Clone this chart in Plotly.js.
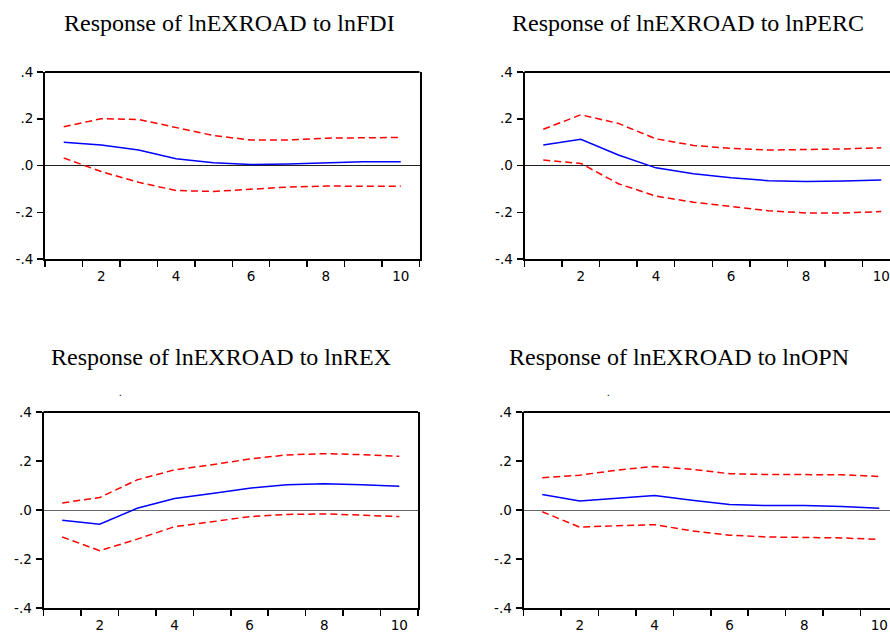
<!DOCTYPE html>
<html>
<head>
<meta charset="utf-8">
<script src="https://cdn.plot.ly/plotly-3.0.1.min.js"></script>
<style>
html,body{margin:0;padding:0;overflow:hidden;background:#fff;width:890px;height:634px;}
#chart{width:900px;height:634px;}
</style>
</head>
<body>
<div id="chart"></div>
<script>
// Periods (categories)
const periods = ["1","2","3","4","5","6","7","8","9","10"];
const periodLabels = ["","2","","4","","6","","8","","10"];
const yTickVals = [-0.4,-0.2,0,0.2,0.4];
const yTickText = ["-.4","-.2",".0",".2",".4"];

const titles = [
  "Response of lnEXROAD to lnFDI",
  "Response of lnEXROAD to lnPERC",
  "Response of lnEXROAD to lnREX",
  "Response of lnEXROAD to lnOPN"
];

// lnFDI
const fdiResp  = [0.099,0.088,0.066,0.029,0.012,0.004,0.006,0.012,0.016,0.016];
const fdiUpper = [0.166,0.200,0.197,0.163,0.128,0.109,0.109,0.117,0.120,0.120];
const fdiLower = [0.032,-0.026,-0.072,-0.107,-0.111,-0.101,-0.092,-0.088,-0.089,-0.089];
// lnPERC
const percResp  = [0.088,0.112,0.045,-0.010,-0.035,-0.052,-0.065,-0.068,-0.066,-0.062];
const percUpper = [0.155,0.217,0.180,0.114,0.086,0.073,0.066,0.068,0.071,0.076];
const percLower = [0.023,0.009,-0.078,-0.131,-0.157,-0.176,-0.194,-0.203,-0.203,-0.197];
// lnREX
const rexResp  = [-0.042,-0.058,0.007,0.047,0.067,0.089,0.103,0.107,0.103,0.097];
const rexUpper = [0.029,0.051,0.123,0.164,0.185,0.208,0.225,0.230,0.226,0.219];
const rexLower = [-0.110,-0.166,-0.119,-0.068,-0.048,-0.027,-0.018,-0.016,-0.021,-0.027];
// lnOPN
const opnResp  = [0.063,0.037,0.048,0.059,0.040,0.022,0.018,0.018,0.014,0.007];
const opnUpper = [0.132,0.142,0.163,0.178,0.166,0.148,0.145,0.145,0.144,0.137];
const opnLower = [-0.007,-0.070,-0.064,-0.060,-0.085,-0.103,-0.110,-0.112,-0.114,-0.120];

const panels = [
  [fdiResp, fdiUpper, fdiLower],
  [percResp, percUpper, percLower],
  [rexResp, rexUpper, rexLower],
  [opnResp, opnUpper, opnLower]
];

const W = 900, H = 634;
// pixel boxes [left, right, top, bottom]
const boxes = [
  [45, 419.5, 72, 259],
  [524.5, 900, 72, 259],
  [43.5, 418, 412, 608],
  [523.5, 898, 412, 608]
];
const titlePos = [[230, 23], [688, 23], [221, 357], [679, 357]];

const tickFont = {family: "DejaVu Sans, Arial, sans-serif", size: 13.5, color: "#000"};

const data = [];
const layout = {
  width: W, height: H,
  margin: {l:0, r:0, t:0, b:0},
  paper_bgcolor: "#fff", plot_bgcolor: "#fff",
  showlegend: false,
  annotations: [],
  shapes: []
};

panels.forEach((p, i) => {
  const n = i + 1;
  const xa = "x" + (n === 1 ? "" : n);
  const ya = "y" + (n === 1 ? "" : n);
  const blue = {color:"#0000ff", width:1.5};
  const red = {color:"#ff0000", width:1.5, dash:"7px,4px"};
  data.push({x: periods, y: p[1], xaxis: xa, yaxis: ya, mode: "lines", line: red, hoverinfo: "skip"});
  data.push({x: periods, y: p[2], xaxis: xa, yaxis: ya, mode: "lines", line: red, hoverinfo: "skip"});
  data.push({x: periods, y: p[0], xaxis: xa, yaxis: ya, mode: "lines", line: blue, hoverinfo: "skip"});

  const b = boxes[i];
  layout["xaxis" + (n === 1 ? "" : n)] = {
    type: "category",
    domain: [b[0]/W, b[1]/W],
    anchor: ya,
    range: [-0.5, 9.5],
    tickmode: "array", tickvals: periods, ticktext: periodLabels,
    tickson: "boundaries",
    ticks: "outside", ticklen: 6, tickwidth: 1.5, tickcolor: "#000",
    ticklabelstandoff: 4,
    showline: true, linecolor: "#000", linewidth: 1.5, mirror: false,
    showgrid: false, zeroline: false,
    tickfont: tickFont,
    fixedrange: true
  };
  layout["yaxis" + (n === 1 ? "" : n)] = {
    domain: [1 - b[3]/H, 1 - b[2]/H],
    anchor: xa,
    range: [-0.4, 0.4],
    tickmode: "array", tickvals: yTickVals, ticktext: yTickText,
    ticks: "outside", ticklen: 6, tickwidth: 1.5, tickcolor: "#000",
    ticklabelstandoff: 1,
    showline: true, linecolor: "#000", linewidth: 2, mirror: true,
    showgrid: false,
    zeroline: true, zerolinecolor: i < 2 ? "#222" : "#666", zerolinewidth: 1,
    tickfont: tickFont,
    fixedrange: true
  };
  // top border
  layout.shapes.push({type: "line", xref: xa + " domain", yref: ya + " domain",
    x0: 0, x1: 1, y0: 1, y1: 1, line: {color: "#000", width: 2}});

  const t = titlePos[i];
  layout.annotations.push({
    text: titles[i], xref: "paper", yref: "paper",
    x: t[0]/W, y: 1 - t[1]/H, xanchor: "center", yanchor: "middle",
    showarrow: false,
    font: {family: "Liberation Serif, Times New Roman, serif", size: 24, color: "#000"}
  });
});

// stray marks under the lower titles
layout.annotations.push({text: ".", xref: "paper", yref: "paper", x: 120/W, y: 1 - 392/H,
  xanchor: "center", yanchor: "middle", showarrow: false, font: {size: 10, color: "#000"}});
layout.annotations.push({text: ".", xref: "paper", yref: "paper", x: 608/W, y: 1 - 392/H,
  xanchor: "center", yanchor: "middle", showarrow: false, font: {size: 10, color: "#000"}});

Plotly.newPlot("chart", data, layout, {staticPlot: true, displayModeBar: false});
</script>
</body>
</html>
